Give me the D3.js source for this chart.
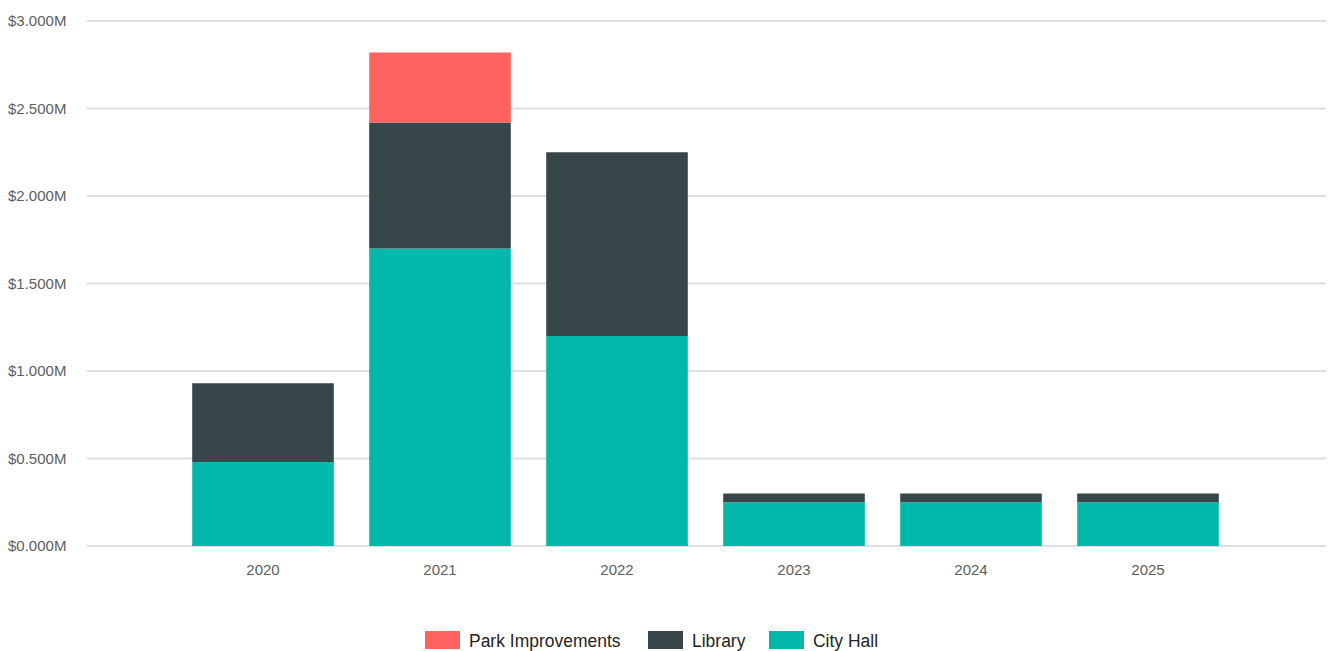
<!DOCTYPE html>
<html>
<head>
<meta charset="utf-8">
<script src="https://cdn.jsdelivr.net/npm/d3@7"></script>
<style>
    body { margin: 0; background: #fff; }
    text { font-family: "Liberation Sans", Arial, sans-serif; }
</style>
</head>
<body>
<svg id="chart" width="1330" height="651"></svg>
<script>
var years = ["2020", "2021", "2022", "2023", "2024", "2025"];
var seriesNames = ["City Hall", "Library", "Park Improvements"];
var cityHall = [0.48, 1.70, 1.20, 0.25, 0.25, 0.25];
var library = [0.45, 0.72, 1.05, 0.05, 0.05, 0.05];
var parkImprovements = [0, 0.40, 0, 0, 0, 0];
var yTicks = [0, 0.5, 1.0, 1.5, 2.0, 2.5, 3.0];
var legendOrder = ["Park Improvements", "Library", "City Hall"];
var colors = {
    "City Hall": "#01b8aa",
    "Library": "#374649",
    "Park Improvements": "#fd625e"
};

document.addEventListener('DOMContentLoaded', main);

function main() {
    var svg = d3.select("#chart");
    var left = 87, right = 1326, top = 21, bottom = 546;

    var rows = years.map(function (y, i) {
        return {
            year: y,
            "City Hall": cityHall[i],
            "Library": library[i],
            "Park Improvements": parkImprovements[i]
        };
    });
    var stacked = d3.stack().keys(seriesNames)(rows);

    var x = d3.scaleBand()
        .domain(years)
        .range([left - 1, right - 1])
        .paddingInner(0.2)
        .paddingOuter(0.6);

    var y = d3.scaleLinear()
        .domain([0, 3])
        .range([bottom, top]);

    // gridlines
    svg.append("g")
        .selectAll("line")
        .data(yTicks)
        .enter().append("line")
            .attr("x1", left)
            .attr("x2", right)
            .attr("y1", function (d) { return y(d); })
            .attr("y2", function (d) { return y(d); })
            .attr("stroke", "#dedede")
            .attr("stroke-width", 2);

    // y labels
    svg.append("g")
        .selectAll("text")
        .data(yTicks)
        .enter().append("text")
            .attr("x", 8)
            .attr("y", function (d) { return y(d); })
            .attr("dy", "0.35em")
            .attr("font-size", 15)
            .attr("fill", "#605e5c")
            .text(function (d) { return "$" + d3.format(".3f")(d) + "M"; });

    // bars
    svg.append("g")
        .selectAll("g")
        .data(stacked)
        .enter().append("g")
            .attr("fill", function (d) { return colors[d.key]; })
        .selectAll("rect")
        .data(function (d) { return d; })
        .enter().append("rect")
            .attr("x", function (d) { return x(d.data.year); })
            .attr("width", x.bandwidth())
            .attr("y", function (d) { return y(d[1]); })
            .attr("height", function (d) { return y(d[0]) - y(d[1]); });

    // x labels
    svg.append("g")
        .selectAll("text")
        .data(years)
        .enter().append("text")
            .attr("x", function (d) { return x(d) + x.bandwidth() / 2; })
            .attr("y", 575)
            .attr("text-anchor", "middle")
            .attr("font-size", 15)
            .attr("fill", "#605e5c")
            .text(function (d) { return d; });

    // legend
    var legendX = [425, 648, 769];
    var legend = svg.append("g")
        .selectAll("g")
        .data(legendOrder)
        .enter().append("g")
            .attr("transform", function (d, i) { return "translate(" + legendX[i] + ",631)"; });
    legend.append("rect")
        .attr("width", 35)
        .attr("height", 18)
        .attr("fill", function (d) { return colors[d]; });
    legend.append("text")
        .attr("transform", "translate(44,9) scale(0.92,1)")
        .attr("dy", "0.35em")
        .attr("font-size", 19)
        .attr("fill", "#252423")
        .text(function (d) { return d; });
}
</script>
</body>
</html>
